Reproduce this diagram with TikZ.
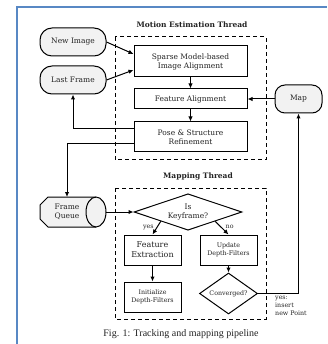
\documentclass[tikz,border=0pt]{standalone}
\usepackage{fontspec}
\setmainfont{DejaVu Serif}
\newfontfamily\capfont{Liberation Serif}
\usetikzlibrary{shapes.geometric,arrows.meta}

\definecolor{frameblue}{RGB}{88,136,196}
\definecolor{termfill}{RGB}{242,242,242}
\definecolor{inktext}{RGB}{35,35,35}

\begin{document}
\begin{tikzpicture}[x=1pt,y=-1pt,
  every node/.style={font=\fontsize{7.5}{9}\selectfont, text=inktext, align=center, inner sep=0pt},
  small/.style={font=\fontsize{6.3}{8}\selectfont},
  proc/.style={draw, line width=1pt, fill=white, minimum height=30pt},
  term/.style={draw, line width=1pt, rounded corners=12pt, fill=termfill, minimum width=66pt, minimum height=28pt},
  decide/.style={draw, diamond, line width=1pt, fill=white, aspect=2},
  arr/.style={-{Latex[length=5pt,width=4.5pt]}, line width=1pt},
  region/.style={draw, dash pattern=on 4pt off 3pt, line width=1pt},
  heading/.style={font=\bfseries\fontsize{7.5}{9}\selectfont}
]
\useasboundingbox (0,0) rectangle (327,344);
\fill[white] (0,0) rectangle (327,344);

% page frame
\draw[frameblue, line width=2pt] (17,344) -- (17,7) -- (327,7);

% thread regions
\draw[region] (115,37) rectangle (266,160);
\draw[region] (115,188) rectangle (266,319);
\node[heading] (mtitle) at (192,25) {Motion Estimation Thread};
\node[heading] (ptitle) at (198,176) {Mapping Thread};

% motion estimation
\node[term] (newimg) at (73,42) {New Image};
\node[term] (lastfr) at (73,80) {Last Frame};
\node[proc, minimum width=113pt, minimum height=31pt] (sparse) at (190.5,61.5) {Sparse Model-based\\Image Alignment};
\node[proc, minimum width=113pt, minimum height=20pt] (featal) at (190.5,99) {Feature Alignment};
\node[proc, minimum width=113pt] (pose) at (190.5,137) {Pose \& Structure\\Refinement};
\node[term, minimum width=47pt, rounded corners=10pt] (map) at (298.5,99) {Map};

% frame queue store
\filldraw[draw=black, fill=termfill, line width=1pt]
  (48,197) -- (40,205) -- (40,219) -- (48,227) -- (96,227)
  arc[start angle=270, end angle=450, x radius=10pt, y radius=15pt] -- cycle;
\draw[line width=1pt] (96,197) arc[start angle=90, end angle=270, x radius=10pt, y radius=15pt];
\node (queue) at (67,212) {Frame\\Queue};
\coordinate (queueE) at (106,212);

% mapping
\node[decide, minimum width=108pt, minimum height=30pt] (key) at (188,212) {Is\\Keyframe?};
\node[proc, minimum width=57pt, font=\fontsize{8}{10}\selectfont] (featex) at (152.5,250) {Feature\\Extraction};
\node[proc, minimum width=57pt, small] (update) at (228.5,250) {Update\\Depth-Filters};
\node[proc, minimum width=57pt, small] (init) at (152.5,297) {Initialize\\Depth-Filters};
\node[decide, minimum width=58pt, minimum height=41pt, small] (conv) at (228.5,293.5) {Converged?};

% connectors
\draw[arr] (newimg.east) -- ([yshift=7.5pt]sparse.west);
\draw[arr] (lastfr.east) -- ([yshift=-8.5pt]sparse.west);
\draw[arr] (sparse.south) -- (featal.north);
\draw[arr] (featal.south) -- (pose.north);
\draw[arr] (map.west) -- (featal.east);
\draw[arr] ([yshift=8pt]pose.west) -| (lastfr.south);
\draw[arr] ([yshift=-7pt]pose.west) -| (queue.north |- 0,197);
\draw[arr] (queueE) -- (key.west);
\draw[arr] (key.south west) -- node[small, pos=0.45, left=3pt] {yes} (featex.north);
\draw[arr] (key.south east) -- node[small, pos=0.45, right=4pt] {no} (update.north);
\draw[arr] (featex.south) -- (init.north);
\draw[arr] (update.south) -- (conv.north);
\draw[arr] (conv.east) -| (map.south);
\node[small, align=left, anchor=north west] (ins) at (275,296) {yes:\\insert\\new Point};

% caption
\node[font=\capfont\fontsize{10}{12}\selectfont, text=inktext] (cap) at (181,334) {Fig. 1: Tracking and mapping pipeline};
\end{tikzpicture}
\end{document}
